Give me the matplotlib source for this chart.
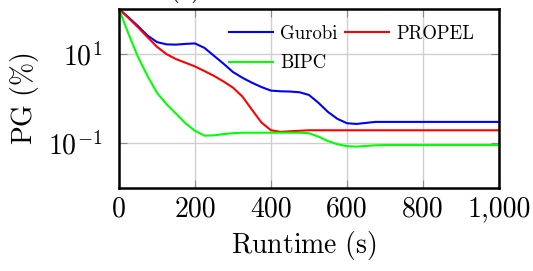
import matplotlib
matplotlib.use("Agg")
import matplotlib.pyplot as plt
from matplotlib.ticker import FixedLocator, FixedFormatter, NullLocator

plt.rcParams['font.family'] = 'serif'
plt.rcParams['font.serif'] = ['cmr10']
plt.rcParams['mathtext.fontset'] = 'cm'
plt.rcParams['axes.unicode_minus'] = False

runtime = [0, 25, 50, 75, 100, 125, 150, 175, 200, 225, 250, 275, 300, 325, 350,
           375, 400, 425, 450, 475, 500, 525, 550, 575, 600, 625, 650, 675, 700,
           800, 900, 1000]
gurobi = [100, 65, 41.5, 25.5, 18.2, 16.2, 16.0, 16.6, 17.0, 13.5, 9.0, 6.0, 3.9,
          2.9, 2.25, 1.8, 1.5, 1.45, 1.43, 1.38, 1.2, 0.8, 0.50, 0.35, 0.28,
          0.27, 0.285, 0.30, 0.30, 0.30, 0.30, 0.30]
propel = [100, 63, 39, 23.5, 14.3, 9.8, 7.6, 6.3, 5.2, 4.1, 3.2, 2.4, 1.75,
          1.1, 0.56, 0.29, 0.195, 0.18, 0.185, 0.19, 0.195, 0.195, 0.195, 0.195,
          0.195, 0.195, 0.195, 0.195, 0.195, 0.195, 0.195, 0.195]
bipc = [100, 28, 8.5, 3.2, 1.34, 0.75, 0.46, 0.28, 0.19, 0.148, 0.15, 0.16,
        0.168, 0.172, 0.172, 0.172, 0.172, 0.172, 0.172, 0.172, 0.168, 0.14,
        0.112, 0.095, 0.086, 0.084, 0.087, 0.09, 0.091, 0.091, 0.091, 0.091]

xticks = [0, 200, 400, 600, 800, 1000]
xticklabels = ['0', '200', '400', '600', '800', '1,000']
yticks = [0.1, 10]
yticklabels = [r'$10^{-1}$', r'$10^{1}$']

fig = plt.figure(figsize=(5.33, 2.71), dpi=100)
ax = fig.add_axes([119/533, 1 - 188/271, 380/533, 179/271])

lw = 1.5
hg, = ax.plot(runtime, gurobi, color=(0, 0, 1), lw=lw, label='Gurobi')
hp, = ax.plot(runtime, propel, color=(1, 0, 0), lw=lw, label='PROPEL')
hb, = ax.plot(runtime, bipc, color=(0, 1, 0), lw=lw, label='BIPC')

ax.set_yscale('log')
ax.set_xlim(0, 1000)
ax.set_ylim(0.01, 100)
ax.xaxis.set_major_locator(FixedLocator(xticks))
ax.xaxis.set_major_formatter(FixedFormatter(xticklabels))
ax.yaxis.set_major_locator(FixedLocator(yticks))
ax.yaxis.set_major_formatter(FixedFormatter(yticklabels))
ax.yaxis.set_minor_locator(NullLocator())
ax.xaxis.set_minor_locator(NullLocator())

ax.grid(True, color='#cfcfcf', lw=1.0)
ax.set_axisbelow(True)
ax.tick_params(direction='in', length=5.5, width=0.8, color='#8a8a8a',
               top=True, right=True, labelsize=20)
ax.tick_params(axis='x', pad=6)
ax.tick_params(axis='y', pad=12)
for s in ax.spines.values():
    s.set_linewidth(1.8)

ax.set_xlabel(r'$\mathrm{Runtime\ (s)}$', fontsize=20)
ax.set_ylabel(r'$\mathrm{PG\ (\%)}$', fontsize=20)
ax.xaxis.set_label_coords(0.485, -0.23)
ax.yaxis.set_label_coords(-0.205, 0.5)

leg = ax.legend([hg, hb, hp], ['Gurobi', 'BIPC', 'PROPEL'], ncol=2,
                loc='upper left', bbox_to_anchor=(0.289, 0.912),
                frameon=False, fontsize=13.5, handlelength=2.35,
                handletextpad=0.37, columnspacing=0.43, labelspacing=0.62,
                borderpad=0, borderaxespad=0)

fig.text(0.347, 1 + 4/271, '(c)', ha='center', va='baseline', fontsize=20)

fig.savefig('out.png', dpi=100)
